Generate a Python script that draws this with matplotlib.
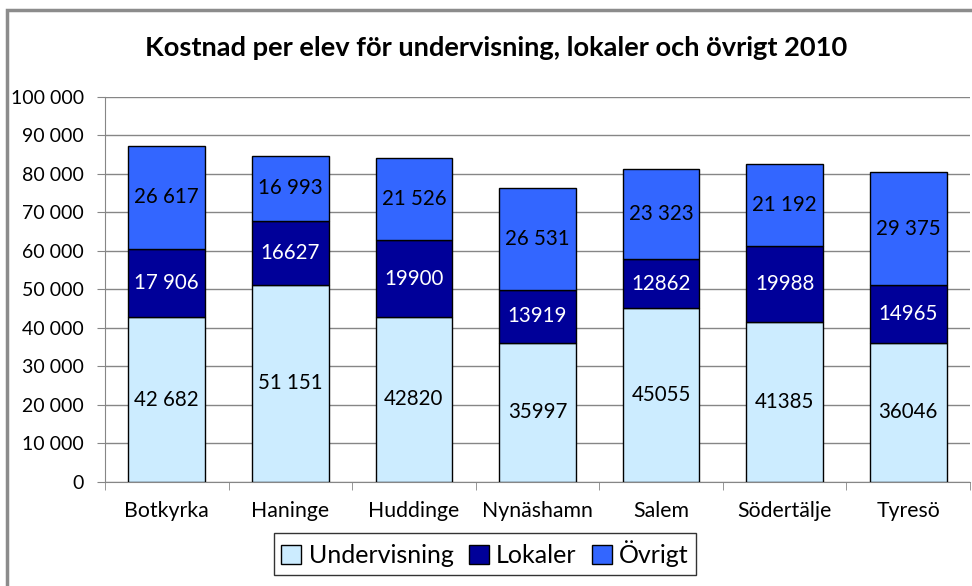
import matplotlib.pyplot as plt
from matplotlib.patches import Rectangle
from matplotlib.ticker import FuncFormatter, MultipleLocator

plt.rcParams['font.family'] = ['Lato', 'DejaVu Sans']

kommuner = ["Botkyrka", "Haninge", "Huddinge", "Nynäshamn", "Salem", "Södertälje", "Tyresö"]
undervisning = [42682, 51151, 42820, 35997, 45055, 41385, 36046]
lokaler = [17906, 16627, 19900, 13919, 12862, 19988, 14965]
ovrigt = [26617, 16993, 21526, 26531, 23323, 21192, 29375]

# etiketterna som de står i originalet (blandad formatering)
undervisning_txt = ["42 682", "51 151", "42820", "35997", "45055", "41385", "36046"]
lokaler_txt = ["17 906", "16627", "19900", "13919", "12862", "19988", "14965"]
ovrigt_txt = ["26 617", "16 993", "21 526", "26 531", "23 323", "21 192", "29 375"]

serier = ["Undervisning", "Lokaler", "Övrigt"]
farger = ["#CCECFF", "#000099", "#3366FF"]
textfarger = ["black", "white", "black"]

fig = plt.figure(figsize=(9.72, 5.86), dpi=100)
ax = fig.add_axes([0.108, 0.178, 0.89, 0.6565])

x = range(len(kommuner))
botten = [0] * len(kommuner)
for varden, texter, namn, farg, tf in zip([undervisning, lokaler, ovrigt],
                                         [undervisning_txt, lokaler_txt, ovrigt_txt],
                                         serier, farger, textfarger):
    staplar = ax.bar(x, varden, width=0.62, bottom=botten, color=farg,
                     edgecolor="black", linewidth=1.0, label=namn, zorder=3)
    ax.bar_label(staplar, labels=texter, label_type="center", color=tf,
                 fontsize=14.8, zorder=4)
    botten = [b + v for b, v in zip(botten, varden)]

ax.set_xlim(-0.5, len(kommuner) - 0.5)
ax.set_ylim(0, 100000)
ax.yaxis.set_major_locator(MultipleLocator(10000))
ax.yaxis.set_major_formatter(FuncFormatter(lambda v, p: f"{int(v):,}".replace(",", " ")))
ax.set_xticks(list(x))
ax.set_xticklabels(kommuner)
ax.set_xticks([i - 0.5 for i in range(len(kommuner) + 1)], minor=True)
ax.tick_params(axis="x", which="major", length=0, pad=14, labelsize=15.3)
ax.tick_params(axis="x", which="minor", length=6, color="#868686")
ax.tick_params(axis="y", length=6, color="#868686", labelsize=14, pad=9)
ax.grid(axis="y", color="#868686", linewidth=1.0, zorder=0)

for side in ["top", "right"]:
    ax.spines[side].set_visible(False)
ax.spines["left"].set_color("#868686")
ax.spines["bottom"].set_color("#868686")

fig.text(0.51, 0.918, "Kostnad per elev för undervisning, lokaler och övrigt 2010",
         ha="center", va="center", fontsize=19.6, fontweight="bold")

leg = fig.legend(loc="center", bbox_to_anchor=(0.499, 0.055), ncol=3, frameon=True,
                 fancybox=False, edgecolor="black", fontsize=18, handlelength=0.8,
                 handleheight=0.8, handletextpad=0.3, columnspacing=0.6,
                 borderpad=0.3)
leg.get_frame().set_linewidth(1.0)

# ramen runt diagrammet
fig.patches.append(Rectangle((0.007, -0.1), 1.2, 1.083, transform=fig.transFigure,
                             fill=False, edgecolor="#8c8c8c", linewidth=2.5))

fig.savefig("out.png", dpi=100)
